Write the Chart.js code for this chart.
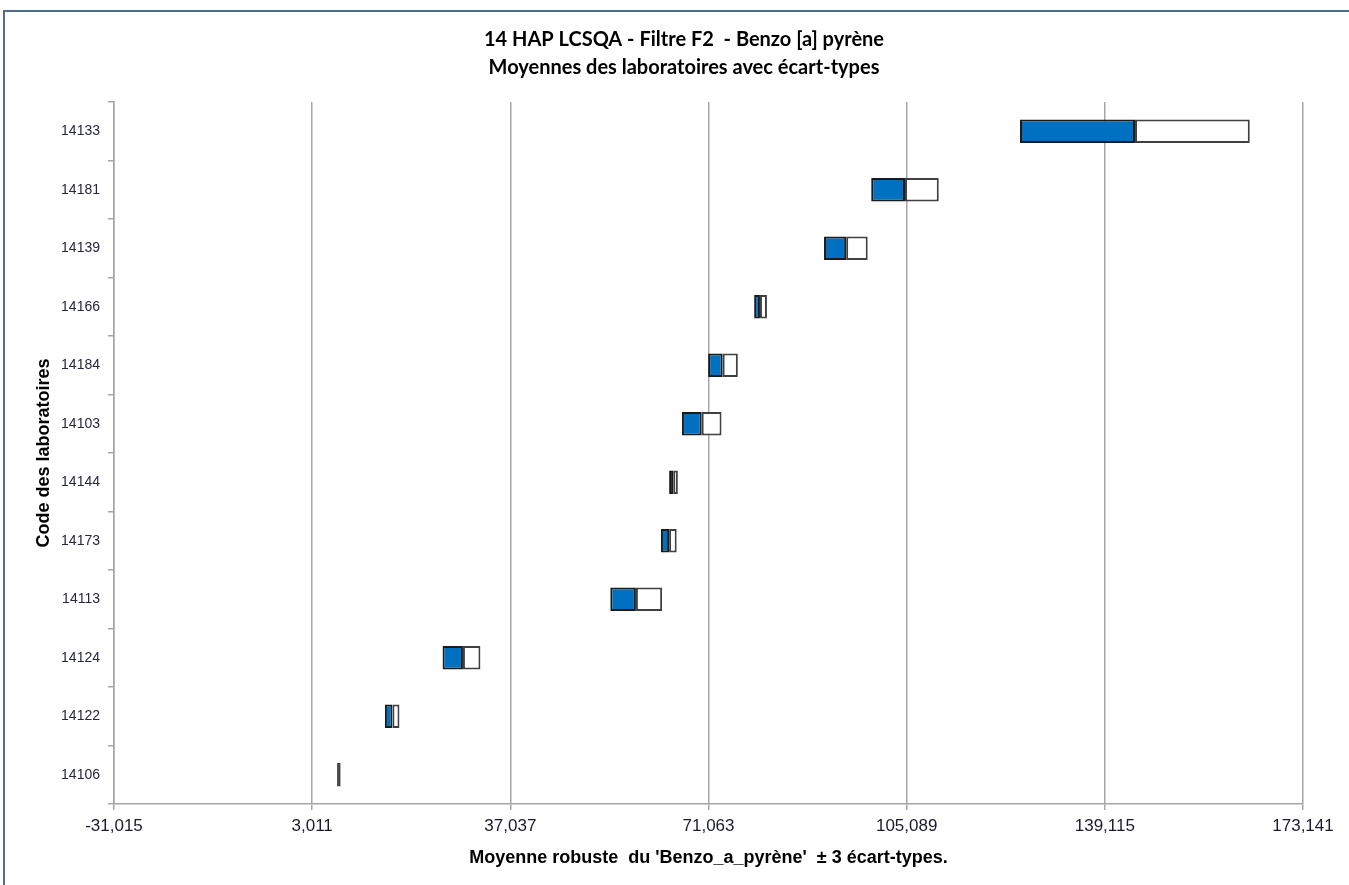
<!DOCTYPE html>
<html>
<head>
<meta charset="utf-8">
<script src="https://cdn.jsdelivr.net/npm/chart.js@4.4.0/dist/chart.umd.min.js"></script>
<style>
  html, body { margin: 0; padding: 0; background: #fff; overflow: hidden; }
  #frame { position: absolute; left: 3px; top: 10px; width: 1400px; height: 1000px; border: 2px solid #4f6d91; }
  #wrap { position: absolute; left: 0; top: 0; width: 1349px; height: 885px; }
</style>
</head>
<body>
<div id="frame"></div>
<div id="wrap"><canvas id="chart"></canvas></div>
<script>
// codes des laboratoires, de haut en bas
const labos = ['14133', '14181', '14139', '14166', '14184', '14103', '14144', '14173', '14113', '14124', '14122', '14106'];
// moyenne - 3 écart-types, moyenne, moyenne + 3 écart-types
const bas = [124.55, 99.0, 90.9, 78.9, 71.0, 66.5, 64.3, 62.9, 54.2, 25.4, 15.5, 7.3];
const moyennes = [144.3, 104.8, 94.7, 79.9, 73.5, 69.9, 65.0, 64.3, 58.6, 28.9, 16.8, 7.6];
const haut = [164.0, 110.6, 98.4, 81.1, 76.1, 73.3, 65.8, 65.6, 63.1, 31.9, 18.0, 7.9];
const xTicks = [-31.015, 3.011, 37.037, 71.063, 105.089, 139.115, 173.141];
const titre = ['14 HAP LCSQA - Filtre F2  - Benzo [a] pyrène', 'Moyennes des laboratoires avec écart-types'];

const padLeft = 20, padBottom = 10;

// titre dessiné à la main pour le centrer comme dans Excel
const titrePlugin = {
    id: 'titre',
    afterDraw(chart) {
        const ctx = chart.ctx;
        ctx.save();
        ctx.fillStyle = '#000';
        ctx.font = 'bold 20px Lato';
        ctx.textAlign = 'center';
        ctx.textBaseline = 'middle';
        ctx.fillText(titre[0], 684, 40);
        ctx.fillText(titre[1], 684, 68);
        ctx.restore();
    }
};

new Chart(document.getElementById('chart'), {
    type: 'bar',
    data: {
        labels: labos,
        datasets: [
            {
                data: labos.map((l, i) => [bas[i], moyennes[i]]),
                backgroundColor: '#0070c0',
                borderColor: '#1a1a1a'
            },
            {
                data: labos.map((l, i) => [moyennes[i], haut[i]]),
                backgroundColor: '#ffffff',
                borderColor: '#404040'
            }
        ]
    },
    plugins: [titrePlugin],
    options: {
        indexAxis: 'y',
        responsive: true,
        maintainAspectRatio: false,
        animation: false,
        layout: { padding: { left: padLeft, right: 46, top: 102, bottom: padBottom } },
        datasets: {
            bar: {
                grouped: false,
                barPercentage: 0.4,
                categoryPercentage: 1,
                borderWidth: 2,
                borderSkipped: false
            }
        },
        plugins: {
            legend: { display: false },
            tooltip: { enabled: false },
            title: { display: false }
        },
        scales: {
            x: {
                min: xTicks[0],
                max: xTicks[xTicks.length - 1],
                afterBuildTicks: axis => { axis.ticks = xTicks.map(v => ({ value: v })); },
                afterFit: s => { s.height = 885 - 804 - padBottom; },
                ticks: {
                    color: '#1a1a2e',
                    font: { family: 'Liberation Sans', size: 17 },
                    padding: 6,
                    maxRotation: 0,
                    callback: v => v.toFixed(3).replace('.', ',')
                },
                grid: { color: '#a6a6a6', lineWidth: 1.5, tickLength: 6 },
                border: { color: '#a6a6a6', width: 1.5 },
                title: {
                    display: true,
                    text: "Moyenne robuste  du 'Benzo_a_pyrène'  ± 3 écart-types.",
                    color: '#000',
                    font: { family: 'Liberation Sans', size: 18, weight: 'bold' },
                    padding: { top: 0, bottom: 6 }
                }
            },
            y: {
                afterFit: s => { s.width = 114 - padLeft; },
                ticks: {
                    color: '#262640',
                    font: { family: 'Liberation Sans', size: 14 },
                    padding: 8
                },
                grid: { drawOnChartArea: false, color: '#a6a6a6', lineWidth: 1.5, tickLength: 6 },
                border: { color: '#a6a6a6', width: 1.5 },
                title: {
                    display: true,
                    text: 'Code des laboratoires',
                    color: '#000',
                    font: { family: 'Liberation Sans', size: 18, weight: 'bold' },
                    padding: { top: 13, bottom: 0 }
                }
            }
        }
    }
});
</script>
</body>
</html>
